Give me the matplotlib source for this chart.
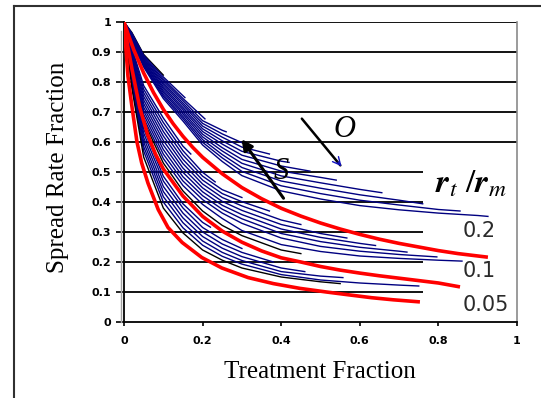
import matplotlib
matplotlib.use("Agg")
import matplotlib.pyplot as plt
from matplotlib.lines import Line2D

plt.rcParams['mathtext.fontset'] = 'stix'

# ---------------- data ----------------
grid_x = [0, 0.02, 0.05, 0.1, 0.15, 0.2, 0.25, 0.3, 0.4, 0.5, 0.6, 0.7, 0.8, 0.9]

# red (optimal) curves for rt/rm = 0.2, 0.1, 0.05
red02_x = [0, 0.01, 0.025, 0.05, 0.075, 0.1, 0.125, 0.15, 0.175, 0.2, 0.25, 0.3, 0.35,
           0.4, 0.45, 0.5, 0.55, 0.6, 0.65, 0.7, 0.75, 0.8, 0.85, 0.926]
red02_y = [1, 0.961, 0.907, 0.83, 0.765, 0.709, 0.661, 0.619, 0.582, 0.549, 0.494, 0.448,
           0.411, 0.379, 0.353, 0.33, 0.31, 0.292, 0.276, 0.262, 0.25, 0.238, 0.228, 0.216]
red01_x = [0, 0.01, 0.02, 0.04, 0.06, 0.08, 0.1, 0.125, 0.15, 0.2, 0.25, 0.3, 0.35,
           0.4, 0.45, 0.5, 0.55, 0.6, 0.65, 0.7, 0.75, 0.8, 0.855]
red01_y = [1, 0.916, 0.845, 0.715, 0.625, 0.56, 0.51, 0.465, 0.42, 0.352, 0.303,
           0.266, 0.237, 0.214, 0.2, 0.185, 0.173, 0.163, 0.154, 0.146, 0.138, 0.13, 0.117]
red005_x = [0, 0.01, 0.02, 0.033, 0.045, 0.061, 0.087, 0.112, 0.148, 0.198, 0.249,
            0.316, 0.38, 0.448, 0.515, 0.575, 0.63, 0.685, 0.753]
red005_y = [1, 0.82, 0.72, 0.6, 0.53, 0.463, 0.375, 0.315, 0.265, 0.215, 0.18,
            0.148, 0.128, 0.112, 0.1, 0.09, 0.081, 0.074, 0.067]

# curves above the 0.2 curve (values at grid_x, then the end point)
upper_y = [
    [1, 0.965, 0.892],
    [1, 0.963, 0.889, 0.817],
    [1, 0.96, 0.885, 0.81, 0.745],
    [1, 0.958, 0.882, 0.804, 0.738, 0.671, 0.639],
    [1, 0.955, 0.878, 0.797, 0.73, 0.662, 0.627],
    [1, 0.953, 0.875, 0.791, 0.723, 0.653, 0.616, 0.583],
    [1, 0.95, 0.871, 0.784, 0.715, 0.644, 0.604, 0.569, 0.536],
    [1, 0.948, 0.868, 0.778, 0.708, 0.635, 0.593, 0.556, 0.52],
    [1, 0.945, 0.864, 0.771, 0.70, 0.626, 0.581, 0.542, 0.503, 0.482],
    [1, 0.943, 0.861, 0.765, 0.693, 0.617, 0.57, 0.529, 0.487, 0.464, 0.442],
    [1, 0.94, 0.857, 0.758, 0.685, 0.608, 0.558, 0.515, 0.47, 0.446, 0.424, 0.406],
    [1, 0.938, 0.854, 0.752, 0.678, 0.599, 0.547, 0.502, 0.454, 0.428, 0.406, 0.39, 0.375],
    [1, 0.935, 0.85, 0.745, 0.67, 0.59, 0.535, 0.488, 0.437, 0.41, 0.388, 0.374, 0.363, 0.355],
]
upper_end_x = [0.10, 0.155, 0.206, 0.26, 0.31, 0.37, 0.42, 0.473, 0.54, 0.656, 0.76, 0.855, 0.926]
upper_end_y = [0.823, 0.748, 0.677, 0.634, 0.592, 0.56, 0.532, 0.503, 0.473, 0.431, 0.394, 0.37, 0.352]
upper_color = ['black'] + ['navy'] * 12

# curves between the 0.2 and 0.1 curves
mid_y = [
    [1, 0.914, 0.788, 0.68, 0.586],
    [1, 0.908, 0.776, 0.665, 0.571, 0.499],
    [1, 0.902, 0.764, 0.65, 0.557, 0.486, 0.441],
    [1, 0.896, 0.752, 0.635, 0.542, 0.473, 0.428, 0.401],
    [1, 0.89, 0.74, 0.62, 0.528, 0.46, 0.415, 0.387, 0.34],
    [1, 0.884, 0.728, 0.605, 0.513, 0.447, 0.402, 0.372, 0.325, 0.295],
    [1, 0.878, 0.716, 0.59, 0.499, 0.434, 0.389, 0.358, 0.31, 0.282, 0.262],
    [1, 0.872, 0.704, 0.575, 0.484, 0.421, 0.376, 0.344, 0.295, 0.268, 0.249, 0.236],
    [1, 0.866, 0.692, 0.56, 0.47, 0.408, 0.363, 0.329, 0.28, 0.252, 0.236, 0.225],
    [1, 0.86, 0.68, 0.545, 0.455, 0.392, 0.345, 0.305, 0.258, 0.235, 0.22, 0.212, 0.206],
    [1, 0.855, 0.67, 0.53, 0.437, 0.37, 0.322, 0.288, 0.24],
]
mid_end_x = [0.17, 0.232, 0.30, 0.37, 0.45, 0.567, 0.64, 0.72, 0.796, 0.86, 0.45]
mid_end_y = [0.56, 0.467, 0.415, 0.37, 0.325, 0.28, 0.255, 0.233, 0.217, 0.203, 0.228]
mid_color = ['navy'] * 10 + ['black']

# curves between the 0.1 and 0.05 curves
low_y = [
    [1, 0.84, 0.644, 0.486, 0.394, 0.332],
    [1, 0.83, 0.63, 0.47, 0.38, 0.315, 0.275],
    [1, 0.82, 0.615, 0.452, 0.363, 0.3, 0.26, 0.232],
    [1, 0.81, 0.6, 0.435, 0.347, 0.285, 0.246, 0.218, 0.18],
    [1, 0.80, 0.585, 0.418, 0.331, 0.27, 0.232, 0.205, 0.168, 0.153],
    [1, 0.79, 0.57, 0.4, 0.314, 0.256, 0.219, 0.193, 0.158, 0.14, 0.13, 0.123],
    [1, 0.78, 0.55, 0.38, 0.297, 0.24, 0.206, 0.18, 0.15, 0.134],
]
low_end_x = [0.22, 0.30, 0.38, 0.46, 0.557, 0.75, 0.55]
low_end_y = [0.316, 0.245, 0.2, 0.168, 0.148, 0.12, 0.128]
low_color = ['navy'] * 6 + ['black']

y_ticks = [0, 0.1, 0.2, 0.3, 0.4, 0.5, 0.6, 0.7, 0.8, 0.9, 1]
y_ticklabels = ['0', '0.1', '0.2', '0.3', '0.4', '0.5', '0.6', '0.7', '0.8', '0.9', '1']
x_ticks = [0, 0.2, 0.4, 0.6, 0.8, 1]
x_ticklabels = ['0', '0.2', '0.4', '0.6', '0.8', '1']
ratio_labels = ['0.2', '0.1', '0.05']

# ---------------- figure ----------------
W, H = 541, 398
fig = plt.figure(figsize=(W / 100, H / 100), dpi=100)
ax = fig.add_axes([124 / W, 1 - 322 / H, 393 / W, 300 / H])
ax.set_xlim(0, 1)
ax.set_ylim(0, 1)

# grid lines (lower ones stop where the label box begins)
for yv in y_ticks[1:]:
    xmax = 1.0 if yv >= 0.55 else 0.761
    ax.plot([0, xmax], [yv, yv], color='black', lw=1.3, zorder=1, solid_capstyle='butt')

def draw_family(ys_list, ex, ey, colors):
    for ys, xe, ye, c in zip(ys_list, ex, ey, colors):
        xs = grid_x[:len(ys)] + [xe]
        yy = ys + [ye]
        ax.plot(xs, yy, color=c, lw=1.0, zorder=3)

draw_family(upper_y, upper_end_x, upper_end_y, upper_color)
draw_family(mid_y, mid_end_x, mid_end_y, mid_color)
draw_family(low_y, low_end_x, low_end_y, low_color)

for xs, ys in [(red02_x, red02_y), (red01_x, red01_y), (red005_x, red005_y)]:
    ax.plot(xs, ys, color='#ff0000', lw=2.6, zorder=4, solid_capstyle='butt')

# spines
ax.spines['top'].set_visible(False)
ax.spines['right'].set_color('#8a8a8a')
ax.spines['right'].set_linewidth(1.2)
ax.spines['left'].set_linewidth(1.3)
ax.spines['bottom'].set_linewidth(1.3)
ax.add_line(Line2D([-0.008, -0.008], [0, 0.97], transform=ax.transAxes,
                   color='#a0a0a0', lw=1.0, clip_on=False))

ax.set_yticks(y_ticks)
ax.set_yticklabels(y_ticklabels)
ax.set_xticks(x_ticks)
ax.set_xticklabels(x_ticklabels)
ax.tick_params(axis='y', direction='out', length=6, width=1.2, pad=3)
ax.tick_params(axis='x', direction='out', length=3, width=1.2, pad=7)
for lab in ax.get_xticklabels() + ax.get_yticklabels():
    lab.set_fontfamily('DejaVu Sans')
    lab.set_fontweight('bold')
    lab.set_fontsize(8)

# axis labels
fig.text(58 / W, 1 - 167 / H, 'Spread Rate Fraction', rotation=90, ha='center', va='center',
         family='Liberation Serif', fontsize=18)
fig.text(320 / W, 1 - 372 / H, 'Treatment Fraction', ha='center', va='center',
         family='Liberation Serif', fontsize=18)

# annotations
ax.annotate('', xy=(0.295, 0.617), xytext=(0.41, 0.405),
            arrowprops=dict(arrowstyle='-|>', color='black', lw=2.2, mutation_scale=16))
ax.text(0.40, 0.50, 'S', family='Liberation Serif', style='italic', fontsize=22,
        ha='center', va='center')
ax.annotate('', xy=(0.555, 0.515), xytext=(0.448, 0.685),
            arrowprops=dict(arrowstyle='-', color='black', lw=1.8))
ax.annotate('', xy=(0.558, 0.512), xytext=(0.54, 0.54),
            arrowprops=dict(arrowstyle='->', color='#1010c0', lw=1.0, mutation_scale=14))
ax.text(0.56, 0.643, 'O', family='Liberation Serif', style='italic', fontsize=22,
        ha='center', va='center')

ax.text(0.883, 0.462, r'$\mathbfit{r}_{t}\ /\mathbfit{r}_{m}$', fontsize=24,
        ha='center', va='center')
for lab, yv in zip(ratio_labels, [0.303, 0.17, 0.057]):
    ax.text(0.862, yv, lab, family='DejaVu Sans', fontsize=15, color='#2a2a2a',
            ha='left', va='center')

# outer frame
fig.add_artist(Line2D([14 / W, 14 / W], [0, 1 - 6 / H], transform=fig.transFigure,
                      color='#303030', lw=1.5))
fig.add_artist(Line2D([14 / W, 1], [1 - 6 / H, 1 - 6 / H], transform=fig.transFigure,
                      color='#303030', lw=1.5))

fig.savefig('out.png', dpi=100)
